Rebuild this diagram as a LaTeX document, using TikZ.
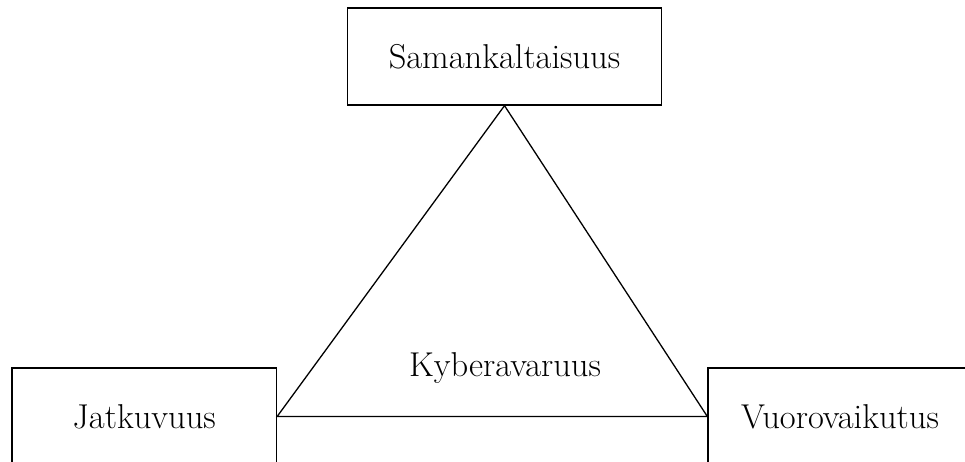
\documentclass[tikz,border=0pt]{standalone}
\begin{document}
\begin{tikzpicture}[x=1pt,y=1pt,
  box/.style={draw,line width=1.3pt,minimum width=314pt,minimum height=97pt,inner sep=0pt,font=\fontsize{34.5}{40}\selectfont},
  lbl/.style={font=\fontsize{34.5}{40}\selectfont,inner sep=0pt},
  edge/.style={line width=1.3pt}]
\useasboundingbox (0,0) rectangle (965,461);
\clip (0,0) rectangle (965,461);
\node[box] (top) at (504.5,404.5) {Samankaltaisuus};
\node[box,minimum width=264.5pt] (left) at (144.25,44.5) {Jatkuvuus};
\node[box,minimum width=264pt] (right) at (840,44.5) {Vuorovaikutus};
\node[lbl] (mid) at (505,93) {Kyberavaruus};
\draw[edge,line join=miter] (top.south) -- (left.east) -- (right.west) -- cycle;
\end{tikzpicture}
\end{document}
